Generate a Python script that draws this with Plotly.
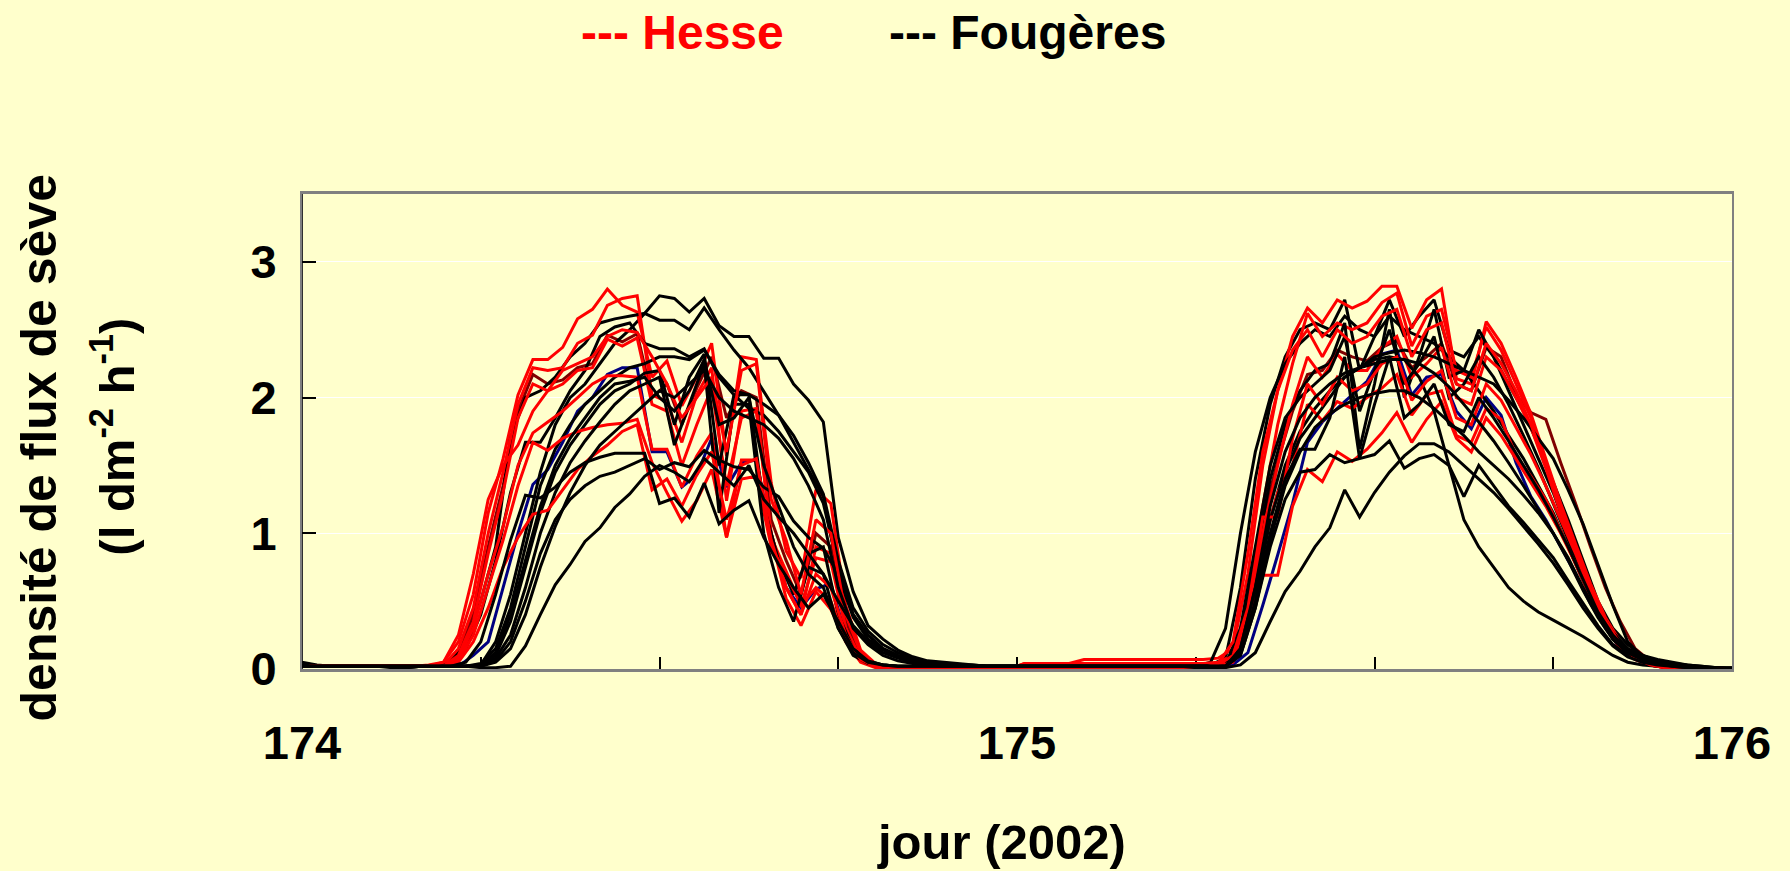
import plotly.graph_objects as go

# ---- time grids (half-hourly); Fougères logged on the hour, Hesse a quarter later
black_t = [174 + k / 48 for k in range(97)]
red_t = [174 + (k + 0.5) / 48 for k in range(96)]

x_tickvals = [174, 174.25, 174.5, 174.75, 175, 175.25, 175.5, 175.75, 176]
x_ticktext = ["174", " ", " ", " ", "175", " ", " ", " ", "176"]
y_tickvals = [0, 1, 2, 3]

# ---- Fougères (black) sap flux density, l dm-2 h-1
fou_1 = [0.05,0.03,0.02,0.02,0.02,0.02,0.02,0.01,0.02,0.02,0.02,0.02,
         0.03,0.2,0.55,1.0,1.45,1.8,2.0,2.1,2.25,2.4,2.5,2.62,
         2.75,2.73,2.63,2.73,2.53,2.45,2.45,2.29,2.29,2.1,1.98,1.82,
         0.97,0.57,0.32,0.22,0.14,0.09,0.06,0.05,0.04,0.03,0.02,0.02,
         0.02,0.02,0.02,0.02,0.02,0.02,0.02,0.02,0.02,0.02,0.02,0.02,
         0.02,0.03,0.08,0.6,1.4,1.95,2.3,2.5,2.55,2.5,2.72,2.2,
         2.45,2.72,2.45,2.6,2.72,2.35,2.3,2.45,2.3,2.1,1.9,1.65,
         1.38,1.1,0.8,0.5,0.3,0.18,0.1,0.07,0.05,0.03,0.02,0.01,0.01]
fou_2 = [0.03,0.02,0.02,0.02,0.02,0.02,0.02,0.01,0.02,0.02,0.05,0.2,
         0.5,0.9,1.7,2.0,2.05,2.15,2.3,2.4,2.55,2.58,2.6,2.62,
         2.57,2.57,2.5,2.66,2.5,2.35,2.22,2.05,1.87,1.72,1.52,1.29,
         0.8,0.45,0.28,0.18,0.12,0.08,0.05,0.04,0.03,0.03,0.02,0.02,
         0.02,0.02,0.02,0.02,0.02,0.02,0.02,0.02,0.02,0.02,0.02,0.02,
         0.02,0.05,0.3,1.0,1.6,2.0,2.25,2.4,2.5,2.45,2.6,2.5,
         2.45,2.6,2.5,2.45,2.4,2.3,2.2,2.05,1.9,1.72,1.55,1.35,
         1.15,0.9,0.65,0.42,0.25,0.15,0.1,0.06,0.04,0.03,0.02,0.01,0.01]
fou_3 = [0.02,0.02,0.02,0.02,0.02,0.02,0.02,0.02,0.02,0.02,0.04,0.15,
         0.4,0.8,1.3,1.67,1.67,1.85,2.05,2.2,2.45,2.52,2.55,2.4,
         2.36,2.36,2.3,2.36,2.15,2.02,1.92,1.87,1.75,1.6,1.45,1.22,
         0.75,0.4,0.25,0.15,0.1,0.07,0.05,0.04,0.03,0.02,0.02,0.02,
         0.02,0.02,0.02,0.02,0.02,0.02,0.02,0.02,0.02,0.02,0.02,0.02,
         0.02,0.02,0.03,0.2,0.8,1.4,1.8,2.05,2.2,2.25,2.55,1.62,
         2.1,2.65,2.0,2.3,2.65,2.15,2.2,2.5,2.3,2.05,1.8,1.55,
         1.3,1.0,0.72,0.45,0.27,0.15,0.08,0.05,0.03,0.02,0.01,0.01,0.0]
fou_4 = [0.02,0.02,0.02,0.02,0.02,0.02,0.01,0.01,0.02,0.02,0.02,0.02,
         0.04,0.15,0.45,0.9,1.35,1.62,1.8,1.95,2.05,2.15,2.22,2.25,
         2.3,2.3,2.28,2.35,2.17,2.05,2.02,1.95,1.87,1.67,1.47,1.27,
         0.7,0.38,0.22,0.14,0.09,0.06,0.05,0.04,0.03,0.02,0.02,0.02,
         0.02,0.02,0.02,0.02,0.02,0.02,0.02,0.02,0.02,0.02,0.02,0.02,
         0.02,0.02,0.02,0.12,0.55,1.1,1.5,1.75,1.92,2.05,2.15,2.22,
         2.3,2.33,2.35,2.33,2.3,2.25,2.2,2.15,2.1,1.98,1.85,1.7,
         1.55,1.32,1.07,0.77,0.47,0.2,0.09,0.05,0.03,0.02,0.01,0.01,0.0]
fou_5 = [0.02,0.02,0.02,0.02,0.02,0.02,0.02,0.02,0.02,0.02,0.02,0.02,
         0.03,0.1,0.35,0.75,1.15,1.45,1.65,1.8,1.95,2.05,2.1,2.18,
         2.2,1.8,2.15,2.32,1.5,2.02,2.02,1.2,0.8,0.55,0.85,0.9,
         0.4,0.15,0.06,0.03,0.02,0.02,0.02,0.02,0.02,0.02,0.02,0.02,
         0.02,0.02,0.02,0.02,0.02,0.02,0.02,0.02,0.02,0.02,0.02,0.02,
         0.02,0.02,0.03,0.3,0.9,1.5,1.85,2.0,2.1,2.2,2.45,1.9,
         2.2,2.5,2.1,2.25,2.45,2.0,2.1,2.3,2.15,1.95,1.72,1.48,
         1.22,0.95,0.68,0.42,0.25,0.14,0.08,0.05,0.03,0.02,0.01,0.01,0.0]
fou_6 = [0.02,0.02,0.02,0.02,0.02,0.02,0.02,0.02,0.02,0.02,0.02,0.02,
         0.02,0.08,0.25,0.6,1.0,1.3,1.52,1.68,1.82,1.95,2.05,2.1,
         2.15,1.65,1.95,2.25,1.15,1.95,1.95,1.0,0.6,0.35,0.75,0.7,
         0.3,0.1,0.04,0.03,0.02,0.02,0.02,0.02,0.02,0.02,0.02,0.02,
         0.02,0.02,0.02,0.02,0.02,0.02,0.02,0.02,0.02,0.02,0.02,0.02,
         0.02,0.02,0.02,0.15,0.6,1.1,1.45,1.7,1.85,2.0,2.15,2.22,
         2.28,2.3,2.28,2.15,1.9,1.5,1.1,0.9,0.75,0.6,0.5,0.42,
         0.36,0.3,0.24,0.17,0.1,0.05,0.03,0.02,0.01,0.01,0.0,0.0,0.0]
fou_7 = [0.02,0.02,0.02,0.02,0.02,0.02,0.02,0.02,0.02,0.02,0.02,0.02,
         0.02,0.06,0.2,0.5,0.85,1.1,1.25,1.35,1.42,1.45,1.5,1.55,
         1.47,1.52,1.49,1.61,1.54,1.49,1.47,1.34,1.27,1.09,0.97,0.89,
         0.7,0.4,0.25,0.15,0.1,0.07,0.05,0.04,0.03,0.02,0.02,0.02,
         0.02,0.02,0.02,0.02,0.02,0.02,0.02,0.02,0.02,0.02,0.02,0.02,
         0.02,0.02,0.02,0.1,0.45,0.9,1.25,1.45,1.47,1.58,1.52,1.55,
         1.58,1.68,1.48,1.55,1.58,1.5,1.27,1.5,1.35,1.2,1.08,0.95,
         0.82,0.65,0.48,0.32,0.18,0.1,0.06,0.04,0.02,0.01,0.01,0.0,0.0]
fou_8 = [0.02,0.02,0.02,0.02,0.02,0.02,0.02,0.02,0.02,0.02,0.02,0.05,
         0.2,0.55,0.95,1.28,1.26,1.34,1.45,1.52,1.56,1.59,1.59,1.59,
         1.22,1.26,1.12,1.37,1.07,1.17,1.24,0.97,0.77,0.6,0.45,0.55,
         0.35,0.15,0.06,0.03,0.02,0.02,0.02,0.02,0.02,0.02,0.02,0.02,
         0.02,0.02,0.02,0.02,0.02,0.02,0.02,0.02,0.02,0.02,0.02,0.02,
         0.01,0.01,0.01,0.03,0.12,0.35,0.57,0.72,0.9,1.04,1.32,1.12,
         1.3,1.45,1.57,1.66,1.66,1.6,1.5,1.4,1.3,1.18,1.05,0.92,
         0.78,0.62,0.45,0.3,0.17,0.09,0.05,0.03,0.02,0.01,0.01,0.0,0.0]
fou_9 = [0.02,0.02,0.02,0.02,0.02,0.02,0.02,0.02,0.02,0.02,0.02,0.02,
         0.01,0.01,0.02,0.17,0.4,0.62,0.77,0.94,1.04,1.19,1.29,1.42,
         1.5,1.45,1.38,1.55,1.45,1.35,1.5,1.25,1.12,1.0,0.85,0.7,
         0.5,0.32,0.2,0.12,0.08,0.05,0.04,0.03,0.03,0.02,0.02,0.02,
         0.02,0.02,0.02,0.02,0.02,0.02,0.02,0.02,0.02,0.02,0.02,0.02,
         0.02,0.02,0.02,0.12,0.5,1.0,1.4,1.62,1.62,1.85,2.3,1.55,
         1.95,2.3,1.85,1.95,2.1,1.8,1.75,2.0,1.85,1.68,1.5,1.32,
         1.12,0.9,0.66,0.42,0.25,0.14,0.08,0.05,0.03,0.02,0.01,0.0,0.0]
fou_10 = [0.02,0.02,0.02,0.02,0.02,0.02,0.02,0.02,0.02,0.02,0.02,0.02,
          0.02,0.05,0.15,0.4,0.75,1.05,1.3,1.5,1.65,1.75,1.85,1.95,
          2.05,2.0,2.1,2.2,2.0,1.9,1.85,1.8,1.7,1.55,1.35,1.1,
          0.6,0.3,0.18,0.1,0.06,0.04,0.03,0.02,0.02,0.02,0.02,0.02,
          0.02,0.02,0.02,0.02,0.02,0.02,0.02,0.02,0.02,0.02,0.02,0.02,
          0.02,0.02,0.02,0.15,0.6,1.2,1.6,1.85,2.0,2.1,2.18,2.22,
          2.25,2.28,2.28,2.25,2.18,2.08,1.95,1.82,1.68,1.52,1.35,1.18,
          1.0,0.8,0.58,0.38,0.22,0.12,0.07,0.04,0.02,0.01,0.0,0.0,0.0]
fou_11 = [0.02,0.02,0.02,0.02,0.02,0.02,0.02,0.02,0.02,0.02,0.02,0.02,
          0.03,0.12,0.4,0.8,1.2,1.5,1.7,1.85,2.0,2.1,2.12,2.15,
          2.0,1.9,2.05,2.28,1.8,1.85,2.0,1.5,1.2,0.9,0.7,0.6,
          0.3,0.12,0.05,0.03,0.02,0.02,0.02,0.02,0.02,0.02,0.02,0.02,
          0.02,0.02,0.02,0.02,0.02,0.02,0.02,0.02,0.02,0.02,0.02,0.02,
          0.02,0.02,0.02,0.1,0.45,0.95,1.35,1.6,1.78,1.88,1.95,2.0,
          2.03,2.05,2.05,2.0,1.92,1.82,1.72,1.6,1.5,1.4,1.28,1.15,
          1.0,0.82,0.6,0.4,0.22,0.12,0.07,0.04,0.03,0.02,0.01,0.0,0.0]

# ---- Hesse (red) sap flux density
hes_1 = [0.02,0.02,0.02,0.02,0.02,0.02,0.02,0.02,0.03,0.05,0.2,0.55,
         1.15,1.55,2.02,2.28,2.28,2.37,2.58,2.65,2.8,2.68,2.63,2.15,
         2.27,1.94,2.15,2.4,1.57,2.3,2.28,1.37,0.87,0.67,1.32,1.22,
         0.47,0.14,0.04,0.01,0.0,0.0,0.0,0.0,0.0,0.0,0.0,0.0,
         0.04,0.04,0.04,0.04,0.07,0.07,0.07,0.07,0.07,0.07,0.07,0.07,
         0.07,0.08,0.15,0.7,1.5,2.05,2.45,2.66,2.55,2.72,2.66,2.71,
         2.82,2.82,2.51,2.72,2.8,2.14,2.1,2.56,2.4,2.15,1.88,1.55,
         1.22,0.92,0.63,0.38,0.2,0.09,0.04,0.02,0.01,0.0,0.0,0.0]
hes_2 = [0.02,0.02,0.02,0.02,0.02,0.02,0.02,0.02,0.02,0.03,0.15,0.45,
         1.0,1.45,1.95,2.22,2.2,2.22,2.4,2.46,2.68,2.73,2.75,2.02,
         1.97,1.67,2.02,2.22,1.24,1.9,1.92,0.97,0.72,0.47,0.82,0.79,
         0.3,0.07,0.02,0.0,0.0,0.0,0.0,0.0,0.0,0.0,0.0,0.0,
         0.04,0.04,0.04,0.04,0.04,0.04,0.04,0.04,0.04,0.04,0.04,0.04,
         0.04,0.05,0.1,0.5,1.2,1.8,2.25,2.62,2.45,2.55,2.5,2.55,
         2.7,2.77,2.38,2.6,2.65,2.2,2.15,2.52,2.35,2.1,1.85,1.5,
         1.2,0.9,0.6,0.35,0.18,0.08,0.04,0.02,0.01,0.0,0.0,0.0]
hes_3 = [0.02,0.02,0.02,0.02,0.02,0.02,0.02,0.02,0.02,0.02,0.1,0.35,
         0.85,1.3,1.85,2.1,2.05,2.1,2.2,2.22,2.43,2.38,2.44,1.95,
         1.9,1.5,1.8,2.07,1.35,1.85,1.9,1.0,0.6,0.4,0.9,0.85,
         0.3,0.08,0.02,0.0,0.0,0.0,0.0,0.0,0.0,0.0,0.0,0.0,
         0.0,0.0,0.0,0.0,0.0,0.0,0.0,0.0,0.0,0.0,0.0,0.0,
         0.01,0.02,0.08,0.4,1.0,1.5,1.95,2.3,2.15,2.32,2.2,2.2,
         2.37,2.45,2.15,2.25,2.37,2.0,1.95,2.3,2.2,2.0,1.78,1.48,
         1.15,0.85,0.55,0.32,0.16,0.07,0.03,0.01,0.0,0.0,0.0,0.0]
hes_4 = [0.02,0.02,0.02,0.02,0.02,0.02,0.02,0.02,0.02,0.02,0.08,0.3,
         0.7,1.05,1.5,1.74,1.82,1.9,2.0,2.1,2.16,2.16,2.15,1.62,
         1.62,1.34,1.57,1.74,0.97,1.54,1.54,0.97,0.52,0.32,0.57,0.44,
         0.22,0.07,0.02,0.0,0.0,0.0,0.0,0.0,0.0,0.0,0.0,0.0,
         0.0,0.0,0.0,0.0,0.0,0.0,0.0,0.0,0.0,0.0,0.0,0.0,
         0.01,0.02,0.06,0.35,0.9,1.3,1.5,1.95,1.83,1.97,1.92,2.0,
         2.07,2.17,1.87,2.02,2.05,1.72,1.67,1.92,1.84,1.57,1.42,1.25,
         1.02,0.78,0.53,0.31,0.15,0.07,0.03,0.01,0.0,0.0,0.0,0.0]
hes_5 = [0.02,0.02,0.02,0.02,0.02,0.02,0.02,0.02,0.02,0.02,0.06,0.25,
         0.6,0.95,1.35,1.67,1.61,1.7,1.75,1.78,1.8,1.81,1.84,1.52,
         1.3,1.09,1.24,1.47,0.97,1.4,1.42,0.9,0.7,0.47,0.6,0.5,
         0.2,0.05,0.01,0.0,0.0,0.0,0.0,0.0,0.0,0.0,0.0,0.0,
         0.0,0.0,0.0,0.0,0.0,0.0,0.0,0.0,0.0,0.0,0.0,0.0,
         0.01,0.02,0.05,0.3,0.69,0.69,1.2,1.47,1.38,1.6,1.53,1.62,
         1.74,1.89,1.67,1.84,1.97,1.7,1.6,1.85,1.72,1.55,1.38,1.2,
         1.0,0.78,0.55,0.33,0.17,0.08,0.03,0.01,0.0,0.0,0.0,0.0]
hes_6 = [0.02,0.02,0.02,0.02,0.02,0.02,0.02,0.02,0.02,0.02,0.05,0.2,
         0.45,0.75,0.97,1.14,1.17,1.32,1.47,1.57,1.65,1.75,1.8,1.32,
         1.4,1.2,1.43,1.6,1.1,1.5,1.55,0.95,0.6,0.4,0.7,0.6,
         0.25,0.07,0.02,0.0,0.0,0.0,0.0,0.0,0.0,0.0,0.0,0.0,
         0.0,0.0,0.0,0.0,0.0,0.0,0.0,0.0,0.0,0.0,0.0,0.0,
         0.01,0.03,0.1,0.45,1.12,1.12,1.7,2.1,1.95,2.15,2.05,2.1,
         2.25,2.3,1.98,2.12,2.2,1.85,1.8,2.1,1.98,1.78,1.58,1.35,
         1.1,0.85,0.58,0.34,0.17,0.08,0.03,0.01,0.0,0.0,0.0,0.0]
hes_7 = [0.02,0.02,0.02,0.02,0.02,0.02,0.02,0.02,0.02,0.05,0.25,0.7,
         1.25,1.5,1.65,1.9,2.05,2.2,2.25,2.3,2.45,2.5,2.48,2.3,
         2.1,1.85,2.0,2.15,1.6,2.2,2.25,1.25,0.95,0.55,1.1,1.0,
         0.4,0.12,0.03,0.01,0.0,0.0,0.0,0.0,0.0,0.0,0.0,0.0,
         0.0,0.0,0.0,0.0,0.0,0.0,0.0,0.0,0.0,0.0,0.0,0.0,
         0.01,0.04,0.2,0.85,1.6,2.05,2.35,2.5,2.3,2.5,2.4,2.45,
         2.6,2.65,2.3,2.5,2.55,2.1,2.05,2.4,2.25,2.05,1.8,1.52,
         1.2,0.9,0.6,0.36,0.18,0.08,0.04,0.02,0.01,0.0,0.0,0.0]
hes_dark = [0.02,0.02,0.02,0.02,0.02,0.02,0.02,0.02,0.02,0.03,0.12,0.4,
            0.9,1.35,1.9,2.17,2.1,2.13,2.22,2.25,2.46,2.41,2.47,2.0,
            2.1,1.8,2.07,2.3,1.85,2.05,2.0,1.1,0.8,0.55,1.0,0.9,
            0.35,0.1,0.03,0.01,0.0,0.0,0.0,0.0,0.0,0.0,0.0,0.0,
            0.01,0.01,0.01,0.01,0.01,0.01,0.01,0.01,0.01,0.01,0.01,0.01,
            0.01,0.03,0.1,0.45,1.1,1.53,1.9,2.17,2.2,2.35,2.3,2.27,
            2.37,2.42,2.22,2.3,2.4,2.1,2.05,2.37,2.3,2.02,1.89,1.84,
            1.52,1.22,0.9,0.6,0.35,0.15,0.06,0.03,0.01,0.0,0.0,0.0]
hes_blue = [0.02,0.02,0.02,0.02,0.02,0.02,0.02,0.02,0.02,0.02,0.02,0.1,
            0.2,0.6,1.0,1.36,1.47,1.67,1.9,2.0,2.17,2.22,2.22,1.6,
            1.6,1.34,1.43,1.7,1.34,1.52,1.54,1.0,0.6,0.45,0.59,0.63,
            0.25,0.07,0.02,0.0,0.0,0.0,0.0,0.0,0.0,0.0,0.0,0.0,
            0.0,0.0,0.0,0.0,0.0,0.0,0.0,0.0,0.0,0.0,0.0,0.0,
            0.0,0.01,0.03,0.12,0.47,0.84,1.22,1.67,1.82,1.92,2.02,2.12,
            2.32,2.35,2.02,2.15,2.17,1.9,1.77,2.0,1.87,1.52,1.27,1.1,
            0.9,0.7,0.48,0.3,0.15,0.07,0.03,0.01,0.0,0.0,0.0,0.0]

fougeres = [fou_1, fou_2, fou_3, fou_4, fou_5, fou_6, fou_7, fou_8, fou_9, fou_10, fou_11]
hesse = [hes_1, hes_2, hes_3, hes_4, hes_5, hes_6, hes_7]

RED = "#FF0000"
BLACK = "#000000"
BG = "#FFFFCC"
FONT = "Liberation Sans, Arial, sans-serif"
LW = 3

fig = go.Figure()

def add(t, y, color):
    fig.add_trace(go.Scatter(x=t, y=y, mode="lines", line=dict(color=color, width=LW),
                             showlegend=False, hoverinfo="skip"))

add(red_t, hes_blue, "#000080")
add(red_t, hes_dark, "#800000")
# interleave the two sites so neither sits entirely on top
for i in range(max(len(fougeres), len(hesse))):
    if i < len(fougeres):
        add(black_t, fougeres[i], BLACK)
    if i < len(hesse):
        add(red_t, hesse[i], RED)

fig.update_layout(
    width=1790, height=871,
    paper_bgcolor=BG, plot_bgcolor=BG,
    margin=dict(l=302, r=58, t=194, b=202),
    showlegend=False,
    font=dict(family=FONT, color="black"),
)
fig.update_xaxes(
    range=[174, 176], tickmode="array", tickvals=x_tickvals, ticktext=x_ticktext,
    ticks="inside", ticklen=12, tickwidth=1.5, tickcolor="#000000",
    tickfont=dict(family=FONT, size=47, color="black", weight="bold"),
    ticklabelstandoff=31,
    showgrid=False, zeroline=False,
    showline=True, linecolor="#808080", linewidth=3, mirror=True,
    layer="below traces",
)
fig.update_yaxes(
    range=[0, 3.5], tickmode="array", tickvals=y_tickvals,
    ticks="inside", ticklen=14, tickwidth=1.5, tickcolor="#000000",
    tickfont=dict(family=FONT, size=47, color="black", weight="bold"),
    ticklabelstandoff=14,
    showgrid=True, gridcolor="#FFFFFF", gridwidth=1, zeroline=False,
    showline=True, linecolor="#808080", linewidth=2, mirror=True,
    layer="below traces",
)
# darker left axis line
fig.add_shape(type="line", xref="paper", yref="paper", x0=0, x1=0, y0=0, y1=1,
              line=dict(color="#303030", width=2), layer="below")

ann_font = dict(family=FONT, size=48, weight="bold")
fig.add_annotation(text="--- Hesse", x=0.266, y=1.341, xref="paper", yref="paper",
                   xanchor="center", yanchor="middle", showarrow=False,
                   font=dict(**ann_font, color=RED))
fig.add_annotation(text="--- Fougères", x=0.507, y=1.341, xref="paper", yref="paper",
                   xanchor="center", yanchor="middle", showarrow=False,
                   font=dict(**ann_font, color=BLACK))
fig.add_annotation(text="jour (2002)", x=0.4894, y=-0.365, xref="paper", yref="paper",
                   xanchor="center", yanchor="middle", showarrow=False,
                   font=dict(family=FONT, size=49, weight="bold", color=BLACK))
fig.add_annotation(text="densité de flux de sève", x=-0.1837, y=0.465, xref="paper", yref="paper",
                   xanchor="center", yanchor="middle", showarrow=False, textangle=-90,
                   font=dict(family=FONT, size=50, weight="bold", color=BLACK))
fig.add_annotation(text="(l dm<sup>-2</sup> h<sup>-1</sup>)", x=-0.1319, y=0.49, xref="paper", yref="paper",
                   xanchor="center", yanchor="middle", showarrow=False, textangle=-90,
                   font=dict(family=FONT, size=49, weight="bold", color=BLACK))

fig.write_html(
    "out.html",
    config={"displayModeBar": False},
    post_script="document.body.style.margin='0';document.body.style.padding='0';"
                "document.documentElement.style.overflow='hidden';",
)
